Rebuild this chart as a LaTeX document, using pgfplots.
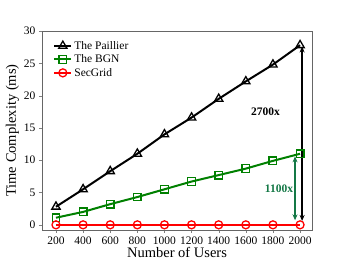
\documentclass[border=0pt]{standalone}
\usepackage{pgfplots}
\pgfplotsset{compat=1.18}
\usepackage{fontspec}
\setmainfont{Liberation Serif}
\usetikzlibrary{arrows.meta}
\definecolor{arrgreen}{RGB}{20,120,70}
\begin{document}
\begin{tikzpicture}
\useasboundingbox (-42pt,-30pt) rectangle (304pt,230pt);
\begin{axis}[
  at={(0,0)}, anchor=south west,
  scale only axis, width=270pt, height=199pt,
  xmin=97, xmax=2088, ymin=-0.8, ymax=30,
  xtick={200,400,...,2000}, ytick={0,5,...,30},
  /pgf/number format/assume math mode=true,
  /pgf/number format/1000 sep={},
  tick label style={font=\fontsize{11.5}{13}\selectfont},
  tick align=outside, tick pos=left, major tick length=3pt,
  xlabel={Number of Users}, ylabel={Time Complexity (ms)},
  label style={font=\fontsize{14.5}{17}\selectfont},
  xlabel style={yshift=4pt}, ylabel style={yshift=-2pt},
  axis line style={black!60, line width=0.6pt},
  legend style={at={(0.03,0.97)}, anchor=north west, draw=none, fill=none,
    font=\fontsize{11.5}{14}\selectfont, row sep=0pt},
  legend cell align=left,
]
\addplot[black, line width=2pt, mark=triangle, mark size=4.8pt, mark options={fill=white, line width=1.3pt}]
 coordinates {(200,2.8)(400,5.5)(600,8.3)(800,11)(1000,14)(1200,16.6)(1400,19.5)(1600,22.2)(1800,24.8)(2000,27.8)};
\addlegendentry{The Paillier}
\addplot[green!50!black, line width=2pt, mark=square, mark size=3.8pt, mark options={fill=white, line width=1.3pt}]
 coordinates {(200,1.1)(400,2.0)(600,3.2)(800,4.3)(1000,5.5)(1200,6.7)(1400,7.7)(1600,8.7)(1800,9.9)(2000,11.0)};
\addlegendentry{The BGN}
\addplot[red, line width=2pt, mark=o, mark size=4pt, mark options={fill=white, line width=1.3pt}]
 coordinates {(200,0)(400,0)(600,0)(800,0)(1000,0)(1200,0)(1400,0)(1600,0)(1800,0)(2000,0)};
\addlegendentry{SecGrid}
\draw[black, line width=1.3pt, {Stealth[length=6pt,width=5pt]}-{Stealth[length=6pt,width=5pt]}] (axis cs:2015,27.6) -- (axis cs:2015,0.6);
\draw[arrgreen, line width=1.3pt, {Stealth[length=6pt,width=5pt]}-{Stealth[length=6pt,width=5pt]}] (axis cs:1963,10.6) -- (axis cs:1963,0.7);
\node[font=\bfseries\fontsize{11.5}{13}\selectfont] at (axis cs:1745,17.5) {2700x};
\node[font=\bfseries\fontsize{11.5}{13}\selectfont, text=arrgreen] at (axis cs:1845,5.6) {1100x};
\end{axis}
\end{tikzpicture}
\end{document}
